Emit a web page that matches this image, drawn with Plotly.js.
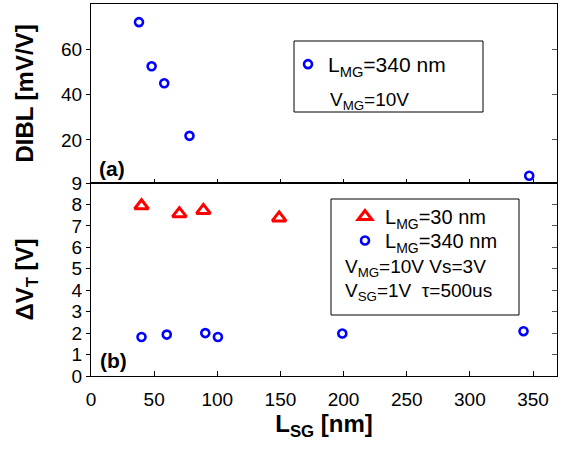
<!DOCTYPE html>
<html>
<head>
<meta charset="utf-8">
<script src="https://cdn.plot.ly/plotly-3.0.1.min.js"></script>
<style>html,body{margin:0;padding:0;background:#fff;}#chart{width:565px;height:457px;}</style>
</head>
<body>
<div id="chart"></div>
<script>
// ---- data ----
const lsgA = [38, 48, 58, 78, 347];          // panel (a) L_SG [nm]
const diblA = [72, 52.5, 45, 21.8, 4.2];      // DIBL [mV/V]
const lsg30 = [40, 70, 89, 149];              // panel (b) L_MG=30 nm
const dvt30 = [7.94, 7.57, 7.72, 7.37];
const lsg340 = [40, 60, 90.5, 100.5, 199, 342.5]; // panel (b) L_MG=340 nm
const dvt340 = [1.82, 1.93, 2.0, 1.82, 1.98, 2.09];
const xTicks = [0, 50, 100, 150, 200, 250, 300, 350];
const yTicksA = [20, 40, 60];
const yTicksB = [0, 1, 2, 3, 4, 5, 6, 7, 8, 9];

// ---- layout helpers (pixel -> paper) ----
const L = 91, R = 557, T = 4, B = 376;
const px = v => (v - L) / (R - L);
const py = v => (B - v) / (B - T);
const split = py(183);

const FONT = 'Arial, "Liberation Sans", sans-serif';
const BLUE = '#0000ff', RED = '#ff0000';

const circ = {symbol: 'circle-open', size: 8, color: BLUE, line: {width: 2.6, color: BLUE}};
const tri = {symbol: 'triangle-up-open', size: 12, color: RED, line: {width: 3, color: RED}};

const traces = [
  {x: lsgA, y: diblA, xaxis: 'x2', yaxis: 'y2', type: 'scatter', mode: 'markers',
   name: 'L<sub>MG</sub>=340 nm', legend: 'legend', marker: circ},
  {x: lsg30, y: dvt30, xaxis: 'x', yaxis: 'y', type: 'scatter', mode: 'markers',
   name: 'L<sub>MG</sub>=30 nm', legend: 'legend2', marker: tri},
  {x: lsg340, y: dvt340, xaxis: 'x', yaxis: 'y', type: 'scatter', mode: 'markers',
   name: 'L<sub>MG</sub>=340 nm', legend: 'legend3', marker: circ},
  // invisible helpers so the right-hand (inward tick) axes are drawn
  {x: lsg340, y: dvt340, xaxis: 'x', yaxis: 'y3', type: 'scatter', mode: 'markers',
   showlegend: false, hoverinfo: 'skip', marker: {opacity: 0}},
  {x: lsgA, y: diblA, xaxis: 'x2', yaxis: 'y4', type: 'scatter', mode: 'markers',
   showlegend: false, hoverinfo: 'skip', marker: {opacity: 0}}
];

const axCommon = {showline: true, linecolor: '#000', linewidth: 1, mirror: true,
  showgrid: false, zeroline: false, tickcolor: '#000',
  tickfont: {family: FONT, size: 19, color: '#000'}};
const legCommon = {xanchor: 'left', yanchor: 'top', bgcolor: 'rgba(0,0,0,0)', borderwidth: 0,
  font: {family: FONT, size: 21, color: '#000'}};
const legSmall = Object.assign({}, legCommon, {font: {family: FONT, size: 20, color: '#000'}});

const layout = {
  width: 565, height: 457,
  margin: {l: L, r: 565 - R, t: T, b: 457 - B},
  paper_bgcolor: '#fff', plot_bgcolor: '#fff',
  font: {family: FONT, color: '#000'},
  xaxis: Object.assign({}, axCommon, {
    domain: [0, 1], anchor: 'y', range: [0, 369], tickvals: xTicks,
    ticks: 'inside', ticklen: 5, ticklabelstandoff: 6,
    title: {text: 'L<sub>SG</sub> [nm]', font: {family: FONT, size: 24, weight: 'bold'}, standoff: 0}
  }),
  yaxis: Object.assign({}, axCommon, {
    domain: [0, split], anchor: 'x', range: [0, 9], tickvals: yTicksB,
    ticks: 'outside', ticklen: 4,
    title: {text: 'ΔV<sub>T</sub> [V]', font: {family: FONT, size: 24, weight: 'bold'}}
  }),
  xaxis2: Object.assign({}, axCommon, {
    domain: [0, 1], anchor: 'y2', range: [0, 369], tickvals: xTicks,
    ticks: 'inside', ticklen: 4, showticklabels: false
  }),
  yaxis2: Object.assign({}, axCommon, {
    domain: [split, 1], anchor: 'x2', range: [1, 80], tickvals: yTicksA,
    ticks: 'outside', ticklen: 4,
    title: {text: 'DIBL [mV/V]', font: {family: FONT, size: 24, weight: 'bold'}}
  }),
  yaxis3: {overlaying: 'y', side: 'right', anchor: 'x', range: [0, 9], tickvals: yTicksB,
    ticks: 'inside', ticklen: 5, tickcolor: '#555', showticklabels: false, showline: false,
    showgrid: false, zeroline: false},
  yaxis4: {overlaying: 'y2', side: 'right', anchor: 'x2', range: [1, 80], tickvals: yTicksA,
    ticks: 'inside', ticklen: 5, tickcolor: '#555', showticklabels: false, showline: false,
    showgrid: false, zeroline: false},
  showlegend: true,
  legend: Object.assign({}, legCommon, {x: px(288), y: py(44)}),
  legend2: Object.assign({}, legSmall, {x: px(345), y: py(197)}),
  legend3: Object.assign({}, legSmall, {x: px(345), y: py(221)}),
  shapes: [
    {type: 'rect', xref: 'paper', yref: 'paper', x0: px(294), x1: px(483), y0: py(112), y1: py(41),
     line: {color: '#000', width: 1}},
    {type: 'rect', xref: 'paper', yref: 'paper', x0: px(331), x1: px(519), y0: py(315), y1: py(199),
     line: {color: '#000', width: 1}}
  ],
  annotations: [
    {xref: 'paper', yref: 'paper', x: px(97), y: py(168), xanchor: 'left', yanchor: 'middle',
     text: '(a)', showarrow: false, font: {family: FONT, size: 21, weight: 'bold'}},
    {xref: 'paper', yref: 'paper', x: px(98), y: py(360), xanchor: 'left', yanchor: 'middle',
     text: '(b)', showarrow: false, font: {family: FONT, size: 21, weight: 'bold'}},
    {xref: 'paper', yref: 'paper', x: px(328), y: py(101), xanchor: 'left', yanchor: 'middle',
     text: 'V<sub>MG</sub>=10V', showarrow: false, font: {family: FONT, size: 19}},
    {xref: 'paper', yref: 'paper', x: px(343), y: py(268), xanchor: 'left', yanchor: 'middle',
     text: 'V<sub>MG</sub>=10V Vs=3V', showarrow: false, font: {family: FONT, size: 19}},
    {xref: 'paper', yref: 'paper', x: px(343), y: py(292), xanchor: 'left', yanchor: 'middle',
     text: 'V<sub>SG</sub>=1V  τ=500us', showarrow: false, font: {family: FONT, size: 19}}
  ]
};

Plotly.newPlot('chart', traces, layout, {displayModeBar: false, staticPlot: true});
</script>
</body>
</html>
